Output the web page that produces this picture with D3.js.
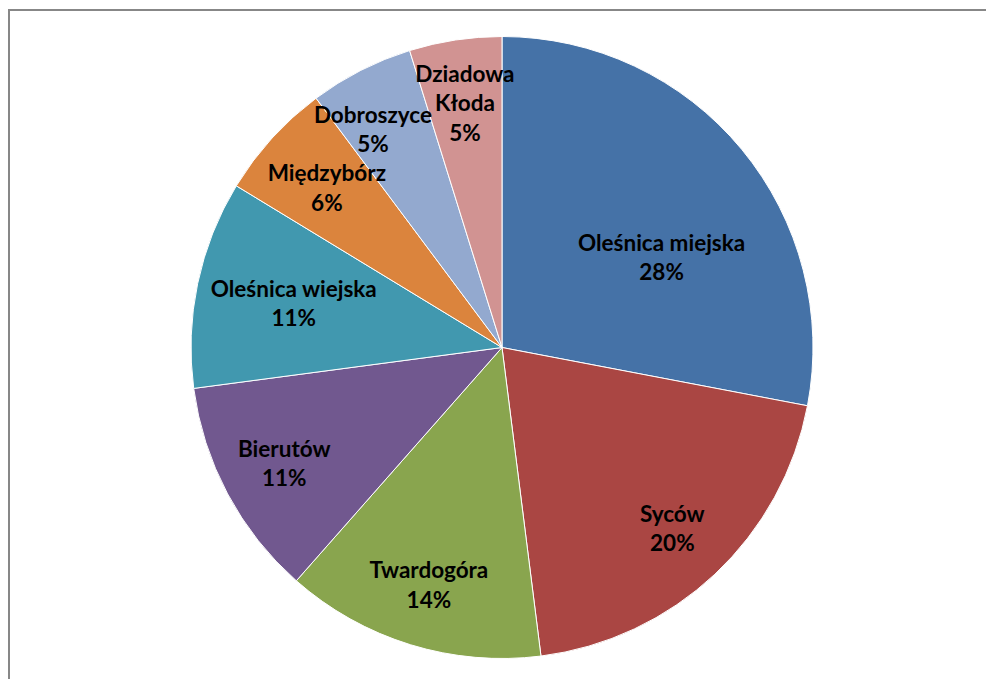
<!DOCTYPE html>
<html>
<head>
  <meta charset="utf-8">
  <style>
  body { margin: 0; background: #fff; }
  text { font-family: Lato, "Open Sans", sans-serif; font-weight: bold; }
  </style>
  <script src="https://cdn.jsdelivr.net/npm/d3@7"></script>
</head>
<body>
<script>
  // slice names and shares (%), clockwise from 12 o'clock
  var gminy = ["Oleśnica miejska", "Syców", "Twardogóra", "Bierutów",
               "Oleśnica wiejska", "Międzybórz", "Dobroszyce", "Dziadowa Kłoda"];
  var udzialy = [28.0, 20.0, 13.5, 11.4, 10.8, 6.1, 5.4, 4.8];
  var etykiety = ["28%", "20%", "14%", "11%", "11%", "6%", "5%", "5%"];
  // label text lines (Excel wrapped the last name)
  var linie = [["Oleśnica miejska"], ["Syców"], ["Twardogóra"], ["Bierutów"],
               ["Oleśnica wiejska"], ["Międzybórz"], ["Dobroszyce"], ["Dziadowa", "Kłoda"]];
  var kolory = ["#4572A7", "#AA4643", "#89A54E", "#71588F",
                "#4198AF", "#DB843D", "#93A9CF", "#D19392"];

  var canvasWidth = 986, canvasHeight = 679;
  var cx = 502, cy = 347.5, radius = 311;
  var fs = 22.5, lh = 29.5;

  var svg = d3.select("body").append("svg")
      .attr("width", canvasWidth)
      .attr("height", canvasHeight);

  // chart frame (right and bottom edges fall outside the window)
  svg.append("rect")
      .attr("x", 9).attr("y", 10)
      .attr("width", 1000).attr("height", 700)
      .attr("fill", "none")
      .attr("stroke", "#878787")
      .attr("stroke-width", 2);

  var data = gminy.map(function(g, i) {
    return {name: g, value: udzialy[i], label: etykiety[i], lines: linie[i]};
  });

  var pie = d3.pie().sort(null).value(function(d) { return d.value; });
  var arc = d3.arc().innerRadius(0).outerRadius(radius);

  var g = svg.append("g").attr("transform", "translate(" + cx + "," + cy + ")");

  var arcs = pie(data);

  g.selectAll("path")
    .data(arcs)
    .enter().append("path")
      .attr("d", arc)
      .attr("fill", function(d, i) { return kolory[i]; })
      .attr("stroke", "#fff")
      .attr("stroke-width", 1);

  var labels = g.selectAll("g.lab")
    .data(arcs)
    .enter().append("g")
      .attr("class", "lab");

  labels.append("text")
      .attr("text-anchor", "middle")
      .attr("font-size", fs)
      .attr("fill", "#000")
      .each(function(d) {
        var t = d3.select(this);
        var all = d.data.lines.concat([d.data.label]);
        var y0 = -(all.length - 1) * lh / 2;
        d.boxes = [];
        all.forEach(function(s, k) {
          var ts = t.append("tspan")
            .attr("x", 0)
            .attr("y", y0 + k * lh)
            .attr("dy", "0.35em")
            .text(s);
          var w = ts.node().getComputedTextLength();
          d.boxes.push({x0: -w / 2, x1: w / 2, y0: y0 + k * lh - fs * 0.45, y1: y0 + k * lh + fs * 0.45});
        });
      });

  // best fit: start at 0.8R and pull the label in until its box sits inside the pie
  labels.each(function(d) {
    var bb = this.getBBox();
    var c;
    if (d.data.value > 25) {
      c = d3.arc().innerRadius(0.62 * radius).outerRadius(0.62 * radius).centroid(d);
      c[0] += 11; c[1] += 33;
    } else {
      for (var r = 0.8 * radius; r > 0.3 * radius; r -= 2) {
        c = d3.arc().innerRadius(r).outerRadius(r).centroid(d);
        var ok = [[bb.x, bb.y], [bb.x + bb.width, bb.y], [bb.x, bb.y + bb.height], [bb.x + bb.width, bb.y + bb.height]]
          .every(function(p) { return Math.hypot(c[0] + p[0], c[1] + p[1]) <= 0.97 * radius; });
        if (ok) break;
      }
    }
    d.pos = c;
  });

  // push a label sideways if any of its lines runs into the next label's lines
  for (var i = arcs.length - 2; i >= 0; i--) {
    var a = arcs[i], b = arcs[i + 1];
    var dir = a.pos[0] < b.pos[0] ? -1 : 1;
    var shift = 0;
    a.boxes.forEach(function(p) {
      b.boxes.forEach(function(q) {
        var vy = (a.pos[1] + p.y1 > b.pos[1] + q.y0) && (a.pos[1] + p.y0 < b.pos[1] + q.y1);
        if (!vy) return;
        var ov = dir < 0 ? (a.pos[0] + p.x1) - (b.pos[0] + q.x0) + 3
                         : (b.pos[0] + q.x1) - (a.pos[0] + p.x0) + 3;
        if (ov > shift) shift = ov;
      });
    });
    a.pos[0] += dir * shift;
  }

  labels.attr("transform", function(d) { return "translate(" + d.pos + ")"; });
</script>
</body>
</html>
